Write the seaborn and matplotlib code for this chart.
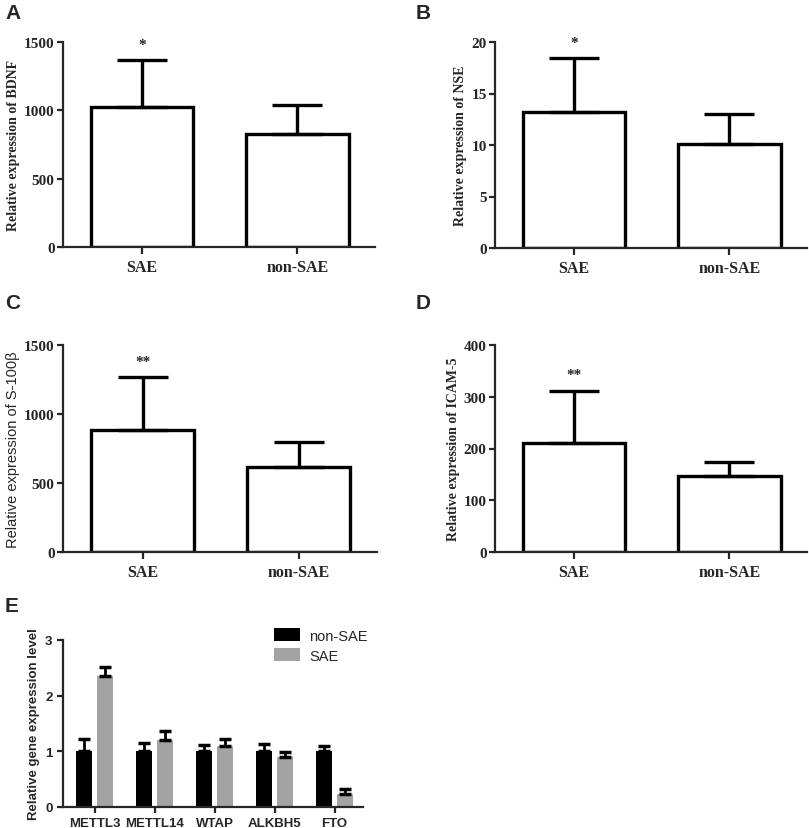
import numpy as np
import pandas as pd
import matplotlib
matplotlib.use("Agg")
import matplotlib.pyplot as plt
import seaborn as sns

# panels A-D: two groups, mean + SD (upper bar only)
groups = ["SAE", "non-SAE"]
bdnf_mean = [1025, 829]
bdnf_sd = [345, 207]
nse_mean = [13.2, 10.1]
nse_sd = [5.2, 2.9]
s100_mean = [885, 617]
s100_sd = [380, 177]
icam_mean = [210, 146]
icam_sd = [102, 27]

# panel E
genes = ["METTL3", "METTL14", "WTAP", "ALKBH5", "FTO"]
non_sae_level = [1.0, 1.0, 1.0, 1.0, 1.0]
non_sae_err = [0.23, 0.15, 0.11, 0.13, 0.10]
sae_level = [2.36, 1.20, 1.09, 0.90, 0.23]
sae_err = [0.15, 0.17, 0.13, 0.09, 0.09]

sns.set_style("ticks")
serif = ["Liberation Serif", "DejaVu Serif"]
sans = ["Liberation Sans", "DejaVu Sans"]
plt.rcParams["font.family"] = sans
plt.rcParams["axes.linewidth"] = 1.6

fig = plt.figure(figsize=(8.09, 8.29), dpi=100)
W, H = 809, 829


def axes_px(l, r, t, b):
    return fig.add_axes([l / W, (H - b) / H, (r - l) / W, (b - t) / H])


def two_bar_panel(ax, means, sds, ymax, step, ylabel, stars, label_font):
    df = pd.DataFrame({"group": groups, "value": means})
    sns.barplot(data=df, x="group", y="value", ax=ax, color="white",
                edgecolor="black", linewidth=2.4, width=0.66, errorbar=None)
    bars = ax.containers[0]
    xs = [b.get_x() + b.get_width() / 2 for b in bars]
    ax.errorbar(xs, means, yerr=[np.zeros(len(sds)), sds], fmt="none",
                ecolor="black", elinewidth=2.4, capsize=18, capthick=2.4, zorder=1)
    ax.text(xs[0], means[0] + sds[0] + ymax * 0.045, stars, ha="center",
            va="bottom", fontsize=11, fontweight="bold", family=serif)
    ax.set_ylim(0, ymax)
    ax.set_xlim(-0.51, 1.5)
    ax.set_yticks(np.arange(0, ymax + step / 2, step))
    ax.set_xlabel("")
    ax.set_ylabel(ylabel, fontsize=10, fontweight="bold", family=label_font, labelpad=3)
    ax.tick_params(axis="y", direction="out", length=4, width=1.6, labelsize=11, pad=2)
    ax.tick_params(axis="x", direction="out", length=5, width=1.6, labelsize=11.5)
    for t in ax.get_xticklabels() + ax.get_yticklabels():
        t.set_family(serif)
        t.set_fontweight("bold")
    sns.despine(ax=ax)


axA = axes_px(63, 375, 43, 248)
two_bar_panel(axA, bdnf_mean, bdnf_sd, 1500, 500, "Relative expression of BDNF", "*", serif)
axB = axes_px(495, 807, 43, 249)
two_bar_panel(axB, nse_mean, nse_sd, 20, 5, "Relative expression of NSE", "*", serif)
axC = axes_px(63, 377, 346, 553)
two_bar_panel(axC, s100_mean, s100_sd, 1500, 500, "Relative expression of S-100β", "**", sans)
axC.yaxis.label.set_fontweight("normal")
axC.yaxis.label.set_fontsize(10.5)
axD = axes_px(495, 807, 346, 553)
two_bar_panel(axD, icam_mean, icam_sd, 400, 100, "Relative expression of ICAM-5", "**", serif)

# panel E
axE = axes_px(63, 363, 641, 808)
dfE = pd.DataFrame({
    "gene": genes * 2,
    "value": non_sae_level + sae_level,
    "group": ["non-SAE"] * len(genes) + ["SAE"] * len(genes),
})
sns.barplot(data=dfE, x="gene", y="value", hue="group", hue_order=["non-SAE", "SAE"],
            palette=["black", "#a3a3a3"], width=0.7, gap=0.2, errorbar=None,
            linewidth=0, ax=axE)
for cont, lev, err in zip(axE.containers, [non_sae_level, sae_level], [non_sae_err, sae_err]):
    xs = [b.get_x() + b.get_width() / 2 for b in cont]
    axE.errorbar(xs, lev, yerr=[np.zeros(len(err)), err], fmt="none", ecolor="black",
                 elinewidth=2, capsize=4, capthick=2.5, zorder=1)
axE.set_ylim(0, 3)
axE.set_xlim(-0.525, 4.475)
axE.set_yticks([0, 1, 2, 3])
axE.set_xlabel("")
axE.set_ylabel("Relative gene expression level", fontsize=9.5, fontweight="bold")
axE.tick_params(direction="out", length=4, width=1.6, labelsize=9.5)
for t in axE.get_xticklabels() + axE.get_yticklabels():
    t.set_fontweight("bold")
leg = axE.legend(frameon=False, loc="upper left", bbox_to_anchor=(0.66, 1.15),
                 fontsize=10.5, handlelength=1.8, handleheight=1.0, handletextpad=0.6,
                 labelspacing=0.4)
sns.despine(ax=axE)

for lab, x, y in [("A", 5, 4), ("B", 416, 4), ("C", 5, 294), ("D", 416, 294), ("E", 5, 597)]:
    fig.text(x / W, 1 - y / H, lab, fontsize=15, fontweight="bold", va="top", ha="left")

fig.savefig("out.png", dpi=100)
